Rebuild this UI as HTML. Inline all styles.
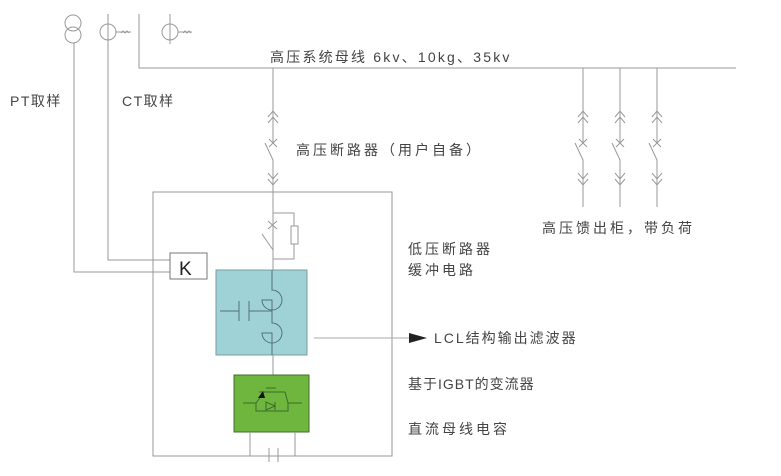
<!DOCTYPE html>
<html><head><meta charset="utf-8"><style>
body{margin:0;background:#fff;width:781px;height:476px;overflow:hidden}
svg{display:block}
text{font-family:"Liberation Sans","Noto Sans CJK SC",sans-serif;font-size:14px;fill:#444;letter-spacing:1.5px}
</style></head><body>
<svg width="781" height="476" viewBox="0 0 781 476" xmlns="http://www.w3.org/2000/svg">
<defs>
<g id="brk" fill="none" stroke="#999" stroke-width="1">
 <path d="M0,68 V143 M-4,139 L4,147 M4,139 L-4,147 M-8,143 L0,160 V207"/>
 <path d="M-5,117 L0,111 L5,117 M-5,123 L0,117 L5,123"/>
 <path d="M-5,173 L0,179 L5,173 M-5,179 L0,185 L5,179"/>
</g>
</defs>
<g fill="none" stroke="#999" stroke-width="1">
 <circle cx="73" cy="23" r="8"/><circle cx="73" cy="35" r="8"/>
 <path d="M74,43 V272 H170"/>
 <circle cx="108" cy="32" r="8"/>
 <path d="M108,14 V260 H170 M116,32 H131"/>
 <path d="M121,33 l2,-2 l2,2 l2,-2 l2,2"/>
 <path d="M139,14 V68 H736"/>
 <circle cx="170" cy="32" r="8"/>
 <path d="M170,14 V44 M178,32 H192 M183,33 l2,-2 l2,2 l2,-2 l2,2"/>
 <rect x="153" y="192" width="239" height="264"/>
 <path d="M273,192 V250 M268,221 L277,229 M277,221 L268,229 M262,234 L273,250 V270"/>
 <path d="M273,213 H294 V226 M294,244 V259 H273"/>
 <rect x="291" y="226" width="7" height="18"/>
</g>
<g transform="translate(273,0)"><use href="#brk"/></g>
<g transform="translate(583,0)"><use href="#brk"/></g>
<g transform="translate(620,0)"><use href="#brk"/></g>
<g transform="translate(657,0)"><use href="#brk"/></g>
<rect x="170" y="253" width="37" height="26" fill="#fff" stroke="#777"/>
<text x="179" y="275" style="font-size:19px;fill:#222;letter-spacing:0">K</text>
<rect x="216" y="270" width="91" height="85" fill="#9fd2d6" stroke="#7a9fa2"/>
<g fill="none" stroke="#55707a" stroke-width="1">
 <path d="M272,270 V290 A10,10 0 1 1 262,300 H272 V323 A10,10 0 1 1 262,333 H272 V355"/>
 <path d="M220,311 H239 M239,301 V321 M249,301 V321 M249,311 H272"/>
</g>
<path d="M314,338 H410" stroke="#aaa" fill="none"/>
<path d="M409,333 L427,338 L409,343 Z" fill="#222"/>
<path d="M273,355 V375" stroke="#999"/>
<rect x="234" y="375" width="75" height="57" fill="#6fb63f" stroke="#3f6f2a"/>
<g fill="none" stroke="#3d6a2a">
 <path d="M243,403 H256 M288,403 H302 M266,388 H276 M259,392 H285 M256,403 L263,394 M285,392 L288,403 M256,403 V411 H288 V403"/>
 <path d="M266,410 V402 L275,406 Z M275,402 V410"/>
</g>
<path d="M258,398 L263,391 L265,398 Z" fill="#111"/>
<path d="M250,432 V456 H269 M269,448 V462 M278,448 V462 M278,456 H295 V432" stroke="#999" fill="none"/>
<text x="270" y="62" style="letter-spacing:2.2px">高压系统母线 6kv、10kg、35kv</text>
<text x="10" y="106">PT取样</text>
<text x="122" y="106">CT取样</text>
<text x="296" y="155" style="letter-spacing:3px">高压断路器（用户自备）</text>
<text x="542" y="233" style="letter-spacing:3px">高压馈出柜，带负荷</text>
<text x="408" y="254" style="letter-spacing:3px">低压断路器</text>
<text x="408" y="275" style="letter-spacing:3px">缓冲电路</text>
<text x="434" y="343" style="letter-spacing:2px">LCL结构输出滤波器</text>
<text x="408" y="389" style="letter-spacing:1px">基于IGBT的变流器</text>
<text x="408" y="434" style="letter-spacing:3px">直流母线电容</text>
</svg>
</body></html>
